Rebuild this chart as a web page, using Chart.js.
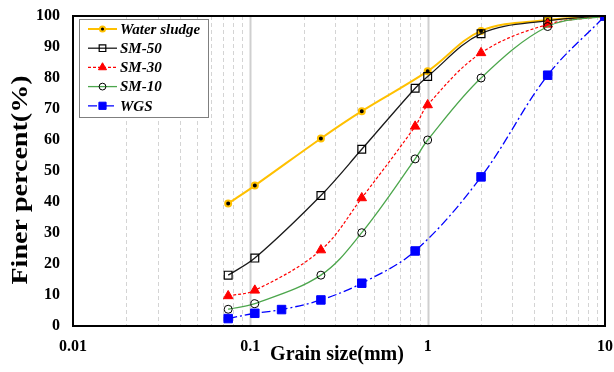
<!DOCTYPE html>
<html>
<head>
<meta charset="utf-8">
<script src="https://cdn.jsdelivr.net/npm/chart.js@4"></script>
<style>
  html, body { margin: 0; padding: 0; background: #fff; }
  #wrap { width: 614px; height: 372px; position: relative; }
</style>
</head>
<body>
<div id="wrap"><canvas id="c" width="614" height="372"></canvas></div>
<script>
// ---- data ----
const seriesNames = ['Water sludge', 'SM-50', 'SM-30', 'SM-10', 'WGS'];
const sizesSludge = [0.075, 0.106, 0.25, 0.425, 1, 2, 4.75, 10];
const finerSludge = [39.5, 45.3, 60.5, 69.3, 82.2, 95.2, 98.7, 100];
const sizesSM = [0.075, 0.106, 0.25, 0.425, 0.85, 1, 2, 4.75, 10];
const finerSM50 = [16.4, 21.9, 42.1, 57.0, 76.7, 80.5, 94.3, 98.5, 100];
const finerSM30 = [9.7, 11.5, 24.5, 41.3, 64.4, 71.3, 88.1, 97.3, 100];
const finerSM10 = [5.4, 7.2, 16.4, 30.1, 53.9, 60.0, 80.0, 96.6, 100];
const sizesWGS = [0.075, 0.106, 0.15, 0.25, 0.425, 0.85, 2, 4.75, 10];
const finerWGS = [2.4, 4.1, 5.3, 8.4, 13.8, 24.2, 48.1, 80.9, 100];
const xTickValues = [0.01, 0.1, 1, 10];
const xTickLabels = ['0.01', '0.1', '1', '10'];
const yTickStep = 10;

const pts = (xs, ys) => xs.map((x, i) => ({ x: x, y: ys[i] }));

const SERIF = "'Liberation Serif', 'Times New Roman', serif";

const datasets = [
  { label: seriesNames[0], data: pts(sizesSludge, finerSludge),
    borderColor: '#FFC000', borderWidth: 2, borderDash: [],
    pointStyle: 'circle', pointRadius: 3, pointBorderWidth: 2,
    pointBorderColor: '#FFC000', pointBackgroundColor: '#000', order: 4 },
  { label: seriesNames[1], data: pts(sizesSM, finerSM50),
    borderColor: '#1a1a1a', borderWidth: 1.3, borderDash: [],
    pointStyle: 'rect', pointRadius: 5.5, pointBorderWidth: 1.2,
    pointBorderColor: '#000', pointBackgroundColor: 'rgba(0,0,0,0)', order: 3 },
  { label: seriesNames[2], data: pts(sizesSM, finerSM30),
    borderColor: '#FF0000', borderWidth: 1.2, borderDash: [3, 2],
    pointStyle: 'triangle', pointRadius: 5.5, pointBorderWidth: 1,
    pointBorderColor: '#FF0000', pointBackgroundColor: '#FF0000', order: 2 },
  { label: seriesNames[3], data: pts(sizesSM, finerSM10),
    borderColor: '#4CA64C', borderWidth: 1.3, borderDash: [],
    pointStyle: 'circle', pointRadius: 4, pointBorderWidth: 1,
    pointBorderColor: '#000', pointBackgroundColor: 'rgba(0,0,0,0)', order: 1 },
  { label: seriesNames[4], data: pts(sizesWGS, finerWGS),
    borderColor: '#0000FF', borderWidth: 1.3, borderDash: [9, 3, 2, 3],
    pointStyle: 'rect', pointRadius: 6, pointBorderWidth: 1,
    pointBorderColor: '#0000FF', pointBackgroundColor: '#0000FF', order: 0 }
];
datasets.forEach(d => { d.tension = 0.35; d.fill = false; d.pointHoverRadius = d.pointRadius; });

// minor/major vertical grid lines + frame
const gridFrame = {
  id: 'gridFrame',
  beforeDatasetsDraw(chart) {
    const { ctx, chartArea: a, scales: { x } } = chart;
    ctx.save();
    for (let dec = -2; dec < 1; dec++) {
      const base = Math.pow(10, dec);
      for (let m = 1; m <= 9; m++) {
        const v = base * m;
        const px = Math.round(x.getPixelForValue(v)) + 0.5;
        if (px <= a.left + 1 || px >= a.right - 1) continue;
        ctx.beginPath();
        if (m === 1) {
          ctx.setLineDash([]);
          ctx.strokeStyle = '#cfcfcf';
          ctx.lineWidth = 2;
        } else {
          ctx.setLineDash([4, 3]);
          ctx.strokeStyle = '#d4d4d4';
          ctx.lineWidth = 1;
        }
        ctx.moveTo(px, a.top);
        ctx.lineTo(px, a.bottom);
        ctx.stroke();
      }
    }
    ctx.restore();
  },
  afterDatasetsDraw(chart) {
    const { ctx, chartArea: a } = chart;
    ctx.save();
    ctx.setLineDash([]);
    ctx.strokeStyle = '#000';
    ctx.lineWidth = 2;
    ctx.strokeRect(a.left, a.top, a.right - a.left, a.bottom - a.top);
    ctx.restore();
  }
};

// in-plot legend + axis titles
const legendTitles = {
  id: 'legendTitles',
  afterDraw(chart) {
    const { ctx, chartArea: a } = chart;
    ctx.save();
    // legend box
    const bx = a.left + 6, by = a.top + 3, bw = 129, bh = 98;
    ctx.fillStyle = '#fff';
    ctx.fillRect(bx, by, bw, bh);
    ctx.strokeStyle = '#7f7f7f';
    ctx.lineWidth = 1;
    ctx.strokeRect(bx + 0.5, by + 0.5, bw, bh);
    chart.data.datasets.forEach((d, i) => {
      const cy = by + 10 + i * 19.2;
      ctx.save();
      ctx.strokeStyle = d.borderColor;
      ctx.lineWidth = d.borderWidth;
      ctx.setLineDash(d.borderDash || []);
      ctx.beginPath();
      ctx.moveTo(bx + 9, cy);
      ctx.lineTo(bx + 38, cy);
      ctx.stroke();
      ctx.setLineDash([]);
      ctx.fillStyle = d.pointBackgroundColor;
      ctx.strokeStyle = d.pointBorderColor;
      ctx.lineWidth = d.pointBorderWidth;
      Chart.helpers.drawPoint(ctx, {
        pointStyle: d.pointStyle, radius: d.pointRadius * 0.85,
        rotation: 0, borderWidth: d.pointBorderWidth
      }, bx + 23.5, cy);
      ctx.restore();
      ctx.fillStyle = '#000';
      ctx.font = "italic bold 15px " + SERIF;
      ctx.textAlign = 'left';
      ctx.textBaseline = 'middle';
      ctx.fillText(d.label, bx + 41, cy + 1);
    });
    // x title
    ctx.fillStyle = '#000';
    ctx.font = "bold 20px " + SERIF;
    ctx.textAlign = 'center';
    ctx.textBaseline = 'alphabetic';
    ctx.fillText('Grain size(mm)', (a.left + a.right) / 2 - 2, 360);
    // y title
    ctx.save();
    ctx.translate(27, 180);
    ctx.rotate(-Math.PI / 2);
    ctx.scale(1.22, 1);
    ctx.font = "bold 23px " + SERIF;
    ctx.textAlign = 'center';
    ctx.textBaseline = 'alphabetic';
    ctx.fillText('Finer percent(%)', 0, 0);
    ctx.restore();
    ctx.restore();
  }
};

new Chart(document.getElementById('c'), {
  type: 'line',
  data: { datasets: datasets },
  options: {
    responsive: false,
    animation: false,
    events: [],
    layout: { padding: { left: 0, right: 9, top: 16, bottom: 0 } },
    plugins: { legend: { display: false }, tooltip: { enabled: false } },
    scales: {
      x: {
        type: 'logarithmic', min: 0.01, max: 10,
        grid: { display: false, drawTicks: false },
        border: { display: false },
        afterBuildTicks: s => { s.ticks = xTickValues.map(v => ({ value: v })); },
        afterFit: s => { s.height = 46; s.paddingLeft = 0; s.paddingRight = 0; },
        ticks: {
          autoSkip: false, maxRotation: 0, padding: 11, color: '#000',
          font: { family: SERIF, size: 16, weight: 'bold' },
          callback: (v) => { const i = xTickValues.indexOf(v); return i >= 0 ? xTickLabels[i] : ''; }
        }
      },
      y: {
        min: 0, max: 100,
        grid: { display: false, drawTicks: false },
        border: { display: false },
        afterFit: s => { s.width = 73; s.paddingTop = 0; s.paddingBottom = 0; },
        ticks: {
          stepSize: yTickStep, padding: 13, color: '#000',
          font: { family: SERIF, size: 16, weight: 'bold' }
        }
      }
    }
  },
  plugins: [gridFrame, legendTitles]
});
</script>
</body>
</html>
